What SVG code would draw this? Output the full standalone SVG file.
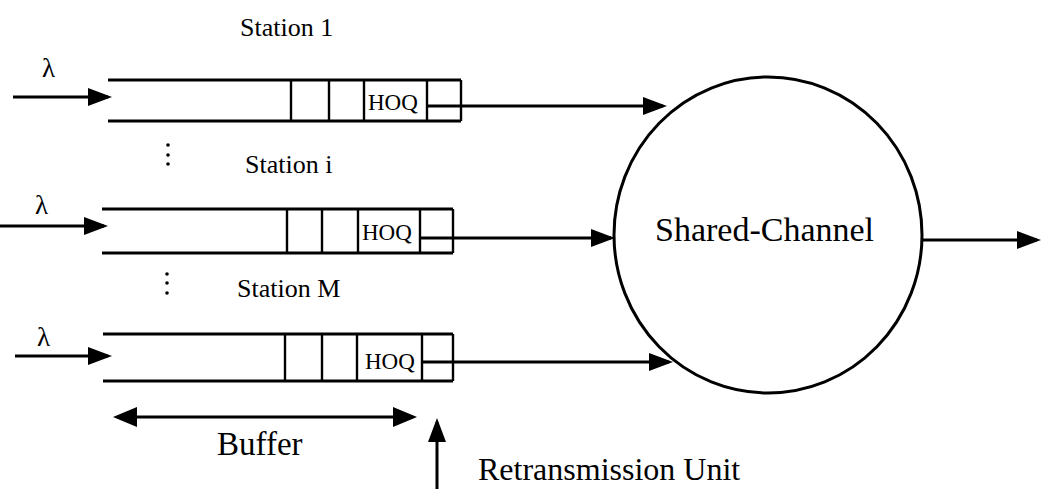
<svg xmlns="http://www.w3.org/2000/svg" width="1041" height="489" viewBox="0 0 1041 489">
  <style>
    .ln { stroke: #000; stroke-width: 3; fill: none; }
    .cell { stroke: #000; stroke-width: 2.4; fill: none; }
    .txt { font-family: "Liberation Serif", "Times New Roman", serif; fill: #000; }
    .lbl { font-size: 26px; }
    .big { font-size: 32px; }
    .hoq { font-size: 23px; }
    .lam { font-size: 27px; }
    .arr { marker-end: url(#head); }
  </style>
  <defs>
    <marker id="head" markerUnits="userSpaceOnUse" markerWidth="26" markerHeight="20" refX="20" refY="9" orient="auto">
      <path d="M0,0 L24,9 L0,18 z" fill="#000"/>
    </marker>
    <marker id="head2" markerUnits="userSpaceOnUse" markerWidth="26" markerHeight="22" refX="20" refY="10" orient="auto-start-reverse">
      <path d="M0,0 L24,10 L0,20 z" fill="#000"/>
    </marker>
  </defs>

  <!-- Station 1 queue -->
  <g id="station-1">
    <text class="txt lbl" x="240" y="36">Station 1</text>
    <text class="txt lam" x="42" y="77">λ</text>
    <line class="ln" x1="108" y1="80" x2="461" y2="80"/>
    <line class="ln" x1="108" y1="121" x2="461" y2="121"/>
    <line class="cell" x1="291" y1="80" x2="291" y2="121"/>
    <line class="cell" x1="329" y1="80" x2="329" y2="121"/>
    <line class="cell" x1="364" y1="80" x2="364" y2="121"/>
    <line class="cell" x1="427" y1="80" x2="427" y2="121"/>
    <line class="cell" x1="461" y1="80" x2="461" y2="121"/>
    <text class="txt hoq" x="368" y="110">HOQ</text>
  </g>

  <!-- Station i queue -->
  <g id="station-i">
    <circle cx="168" cy="145" r="1.8"/>
    <circle cx="168" cy="155" r="1.8"/>
    <circle cx="168" cy="164" r="1.8"/>
    <text class="txt lbl" x="245" y="173">Station i</text>
    <text class="txt lam" x="35" y="214">λ</text>
    <line class="ln" x1="102" y1="209" x2="453" y2="209"/>
    <line class="ln" x1="102" y1="253" x2="453" y2="253"/>
    <line class="cell" x1="287" y1="209" x2="287" y2="253"/>
    <line class="cell" x1="322" y1="209" x2="322" y2="253"/>
    <line class="cell" x1="358" y1="209" x2="358" y2="253"/>
    <line class="cell" x1="420" y1="209" x2="420" y2="253"/>
    <line class="cell" x1="453" y1="209" x2="453" y2="253"/>
    <text class="txt hoq" x="362" y="240">HOQ</text>
  </g>

  <!-- Station M queue -->
  <g id="station-m">
    <circle cx="167" cy="274" r="1.8"/>
    <circle cx="167" cy="283" r="1.8"/>
    <circle cx="167" cy="293" r="1.8"/>
    <text class="txt lbl" x="237" y="297">Station M</text>
    <text class="txt lam" x="37" y="346">λ</text>
    <line class="ln" x1="103" y1="334" x2="453" y2="334"/>
    <line class="ln" x1="103" y1="381" x2="453" y2="381"/>
    <line class="cell" x1="285" y1="334" x2="285" y2="381"/>
    <line class="cell" x1="322" y1="334" x2="322" y2="381"/>
    <line class="cell" x1="357" y1="334" x2="357" y2="381"/>
    <line class="cell" x1="422" y1="334" x2="422" y2="381"/>
    <line class="cell" x1="453" y1="334" x2="453" y2="381"/>
    <text class="txt hoq" x="365" y="369">HOQ</text>
  </g>

  <!-- Shared channel server -->
  <g id="shared-channel">
    <ellipse class="ln" cx="768" cy="235" rx="154" ry="158"/>
    <text class="txt" x="655" y="241" font-size="34">Shared-Channel</text>
  </g>

  <!-- Buffer span -->
  <g id="buffer">
    <line class="ln" x1="117" y1="417" x2="413" y2="417" marker-start="url(#head2)" marker-end="url(#head2)"/>
    <text class="txt" x="217" y="455" font-size="33">Buffer</text>
  </g>

  <!-- Retransmission unit -->
  <g id="retransmission-unit">
    <line class="ln arr" x1="437" y1="489" x2="437" y2="422"/>
    <text class="txt big" x="478" y="480">Retransmission Unit</text>
  </g>

  <!-- Connectors -->
  <g id="connectors">
    <line class="ln arr" x1="13" y1="97" x2="108" y2="97"/>
    <line class="ln arr" x1="0" y1="226" x2="104" y2="226"/>
    <line class="ln arr" x1="15" y1="356" x2="108" y2="356"/>
    <line class="ln arr" x1="427" y1="106" x2="663" y2="106"/>
    <line class="ln arr" x1="420" y1="238" x2="611" y2="238"/>
    <line class="ln arr" x1="422" y1="362" x2="669" y2="362"/>
    <line class="ln arr" x1="922" y1="240" x2="1037" y2="240"/>
  </g>
</svg>
